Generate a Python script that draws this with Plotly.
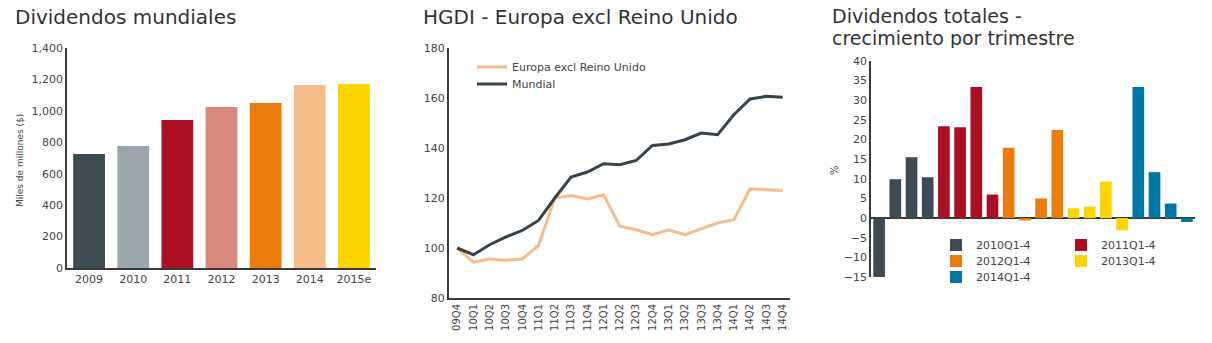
import plotly.graph_objects as go

W, H = 1212, 343

# --- Dividendos mundiales (miles de millones USD) ---
years = ["2009", "2010", "2011", "2012", "2013", "2014", "2015e"]
dividends = [725, 776, 942, 1025, 1050, 1165, 1171]
year_colors = ["#3d4b52", "#9ba7ad", "#ab0f24", "#d78a7c", "#eb7c0a", "#f6bd8b", "#fdd400"]

# --- HGDI index ---
quarters = ["09Q4", "10Q1", "10Q2", "10Q3", "10Q4", "11Q1", "11Q2", "11Q3", "11Q4",
            "12Q1", "12Q2", "12Q3", "12Q4", "13Q1", "13Q2", "13Q3", "13Q4",
            "14Q1", "14Q2", "14Q3", "14Q4"]
europa = [100, 94.3, 95.6, 95.1, 95.6, 101, 120, 121, 119.6, 121.3, 108.7, 107.3,
          105.3, 107.3, 105.3, 107.7, 110, 111.3, 123.7, 123.3, 123]
mundial = [100, 97.3, 101.3, 104.4, 107, 111, 120, 128.4, 130.4, 133.7, 133.3, 135,
           141, 141.6, 143.3, 146, 145.3, 153.3, 159.6, 160.7, 160.3]

# --- Crecimiento trimestral de dividendos (%) ---
growth_groups = ["2010Q1-4", "2011Q1-4", "2012Q1-4", "2013Q1-4", "2014Q1-4"]
growth_quarters = [[f"{y}Q{q}" for q in range(1, 5)] for y in range(2010, 2015)]
growth_values = [
    [-15, 9.9, 15.5, 10.4],
    [23.4, 23.1, 33.4, 6.0],
    [17.9, -0.6, 5.0, 22.4],
    [2.5, 2.9, 9.3, -3.1],
    [33.4, 11.7, 3.7, -1.0],
]
growth_colors = ["#3d4b52", "#ab0f24", "#eb7c0a", "#fdd400", "#0077a0"]
growth_legends = ["legend3", "legend3", "legend4", "legend4", "legend5"]

TXT = "#444444"
AXIS = "#3a3a3a"
FONT = "DejaVu Sans"


def px_x(p):
    return p / W


def px_y(p):
    return 1 - p / H


fig = go.Figure()

fig.add_trace(go.Bar(
    x=years, y=dividends, marker=dict(color=year_colors, line=dict(width=0)),
    xaxis="x", yaxis="y", showlegend=False,
))

fig.add_trace(go.Scatter(
    x=quarters, y=europa, mode="lines", name="Europa excl Reino Unido",
    line=dict(color="#f6bd8b", width=3), xaxis="x2", yaxis="y2", legend="legend",
))
fig.add_trace(go.Scatter(
    x=quarters, y=mundial, mode="lines", name="Mundial",
    line=dict(color="#37444b", width=3), xaxis="x2", yaxis="y2", legend="legend2",
))

for name, qs, vals, col, lg in zip(growth_groups, growth_quarters, growth_values,
                                   growth_colors, growth_legends):
    fig.add_trace(go.Bar(
        x=qs, y=vals, name=name, marker=dict(color=col, line=dict(width=0)),
        xaxis="x3", yaxis="y3", legend=lg,
    ))

all_q = [q for qs in growth_quarters for q in qs]

tick_font = dict(family=FONT, size=11, color=TXT)
legend_font = dict(family=FONT, size=11, color=TXT)


def row_legend(y_px):
    return dict(x=px_x(936), y=px_y(y_px), xanchor="left", yanchor="middle",
                orientation="h", entrywidth=80, entrywidthmode="pixels",
                font=legend_font, bgcolor="rgba(0,0,0,0)")


fig.update_layout(
    width=W, height=H, margin=dict(l=0, r=0, t=0, b=0, autoexpand=False),
    paper_bgcolor="white", plot_bgcolor="white",
    barmode="relative", bargap=0.28,
    font=dict(family=FONT, color=TXT),
    xaxis=dict(domain=[px_x(67), px_x(376)], showline=True, linecolor=AXIS, linewidth=1.5,
               ticks="", showgrid=False, tickfont=tick_font, anchor="y"),
    yaxis=dict(domain=[px_y(268), px_y(48)], range=[0, 1400], dtick=200, tickformat=",",
               showline=True, linecolor=AXIS, linewidth=1.5, ticks="", showgrid=False,
               zeroline=False, tickfont=tick_font, anchor="x"),
    xaxis2=dict(domain=[px_x(449), px_x(790)], range=[-0.5, 20.45], showline=True,
                linecolor=AXIS, linewidth=2, ticks="", showgrid=False, tickangle=-90,
                tickfont=dict(family=FONT, size=10, color=TXT), anchor="y2"),
    yaxis2=dict(domain=[px_y(298), px_y(48)], range=[80, 180], dtick=20, showline=True,
                linecolor=AXIS, linewidth=2, ticks="", showgrid=False, zeroline=False,
                tickfont=tick_font, anchor="x2"),
    xaxis3=dict(domain=[px_x(871), px_x(1195)], categoryorder="array", categoryarray=all_q,
                range=[-0.5, 19.5], showline=False, showticklabels=False, ticks="",
                showgrid=False, anchor="y3"),
    yaxis3=dict(domain=[px_y(277), px_y(61)], range=[-15, 40], dtick=5, showline=True,
                linecolor=AXIS, linewidth=1.5, ticks="", showgrid=False, zeroline=True,
                zerolinecolor=AXIS, zerolinewidth=1.5, tickfont=tick_font, anchor="x3"),
    legend=dict(x=px_x(472), y=px_y(67), xanchor="left", yanchor="middle",
                font=legend_font, bgcolor="rgba(0,0,0,0)"),
    legend2=dict(x=px_x(472), y=px_y(84), xanchor="left", yanchor="middle",
                 font=legend_font, bgcolor="rgba(0,0,0,0)"),
    legend3=row_legend(245),
    legend4=row_legend(261),
    legend5=row_legend(277),
)

title_font = dict(family=FONT, size=20, color="#333333")
for text, x_px in [("Dividendos mundiales", 13), ("HGDI - Europa excl Reino Unido", 421)]:
    fig.add_annotation(text=text, xref="paper", yref="paper", x=px_x(x_px), y=px_y(17),
                       xanchor="left", yanchor="middle", showarrow=False, font=title_font)

# two-line title of the quarterly growth panel
title3_font = dict(family=FONT, size=19, color="#333333")
for text, y_px in [("Dividendos totales -", 16), ("crecimiento por trimestre", 38)]:
    fig.add_annotation(text=text, xref="paper", yref="paper", x=px_x(830), y=px_y(y_px),
                       xanchor="left", yanchor="middle", showarrow=False,
                       height=20, valign="middle", font=title3_font)

fig.add_annotation(text="Miles de millones ($)", xref="paper", yref="paper",
                   x=px_x(20), y=px_y(160), textangle=-90, showarrow=False,
                   xanchor="center", yanchor="middle",
                   font=dict(family=FONT, size=9, color=TXT))
fig.add_annotation(text="%", xref="paper", yref="paper",
                   x=px_x(834), y=px_y(170), textangle=-90, showarrow=False,
                   xanchor="center", yanchor="middle",
                   font=dict(family=FONT, size=10, color=TXT))

fig.write_html("out.html")
